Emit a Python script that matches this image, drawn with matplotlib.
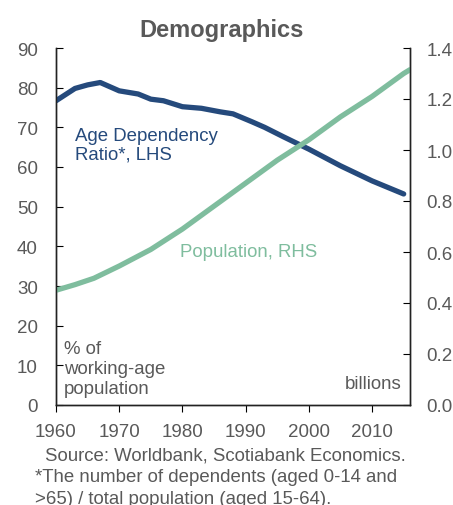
import numpy as np
import matplotlib
matplotlib.use("Agg")
import matplotlib.pyplot as plt

plt.rcParams["font.family"] = ["Liberation Sans", "DejaVu Sans"]

GREY = "#595959"
NAVY = "#254a7c"
GREEN = "#7fbd9e"

# age dependency ratio, % of working-age population (LHS)
adr_years = [1960, 1963, 1965, 1967, 1970, 1973, 1975, 1977, 1980, 1983, 1986,
             1988, 1991, 1993, 1996, 2000, 2005, 2010, 2015]
adr_vals = [76.7, 79.8, 80.7, 81.3, 79.2, 78.4, 77.1, 76.7, 75.2, 74.8, 73.9,
            73.4, 71.4, 70.0, 67.6, 64.5, 60.3, 56.5, 53.2]

# population, billions (RHS)
pop_years = [1960, 1963, 1966, 1970, 1975, 1980, 1985, 1990, 1995, 2000, 2005, 2010, 2015, 2016]
pop_vals = [0.45, 0.472, 0.497, 0.545, 0.61, 0.69, 0.78, 0.87, 0.96, 1.04, 1.13, 1.21, 1.30, 1.315]

left_ticks = list(range(0, 91, 10))
right_ticks = [0.0, 0.2, 0.4, 0.6, 0.8, 1.0, 1.2, 1.4]
x_ticks = [1960, 1970, 1980, 1990, 2000, 2010]

fig = plt.figure(figsize=(4.53, 5.06), dpi=100)
ax = fig.add_axes([56 / 453, 100 / 506, 354 / 453, 357 / 506])
ax2 = ax.twinx()

ax.plot(adr_years, adr_vals, color=NAVY, lw=3.8, solid_capstyle="round",
        solid_joinstyle="round", zorder=3)
ax2.plot(pop_years, pop_vals, color=GREEN, lw=3.8, solid_capstyle="round",
         solid_joinstyle="round", zorder=2)

ax.set_xlim(1960, 2016)
ax.set_ylim(0, 90)
ax2.set_ylim(0, 1.4)
ax.set_xticks(x_ticks)
ax.set_yticks(left_ticks)
ax2.set_yticks(right_ticks)
ax2.set_yticklabels(["%.1f" % v for v in right_ticks])

for a in (ax, ax2):
    a.spines["top"].set_visible(False)
    for s in a.spines.values():
        s.set_color("#222222")
        s.set_linewidth(1.0)
ax.tick_params(axis="y", direction="in", length=5, pad=13, labelsize=13.5, labelcolor=GREY)
ax2.tick_params(axis="y", direction="in", length=5, pad=12, labelsize=13.5, labelcolor=GREY)
ax.tick_params(axis="x", direction="out", length=5, pad=8, labelsize=13.5, labelcolor=GREY)

ax.text(1963, 70, "Age Dependency\nRatio*, LHS", color=NAVY, fontsize=13.4,
        va="top", ha="left", linespacing=1.1)
ax.text(1979.6, 38.6, "Population, RHS", color=GREEN, fontsize=13.4, va="center", ha="left")
ax.text(1961.3, 16.3, "% of\nworking-age\npopulation", color=GREY, fontsize=13.4,
        va="top", ha="left", linespacing=1.2)
ax.text(2014.6, 5.3, "billions", color=GREY, fontsize=13.4, va="center", ha="right")

fig.text(0.49, 1 - 30 / 506, "Demographics", color=GREY, fontsize=17, fontweight="bold",
         ha="center", va="center")
fig.text(45 / 453, 1 - 456 / 506, "Source: Worldbank, Scotiabank Economics.",
         color=GREY, fontsize=13.4, va="center", ha="left")
fig.text(35 / 453, 1 - 478 / 506, "*The number of dependents (aged 0-14 and",
         color=GREY, fontsize=13.4, va="center", ha="left")
fig.text(35 / 453, 1 - 500 / 506, ">65) / total population (aged 15-64).",
         color=GREY, fontsize=13.4, va="center", ha="left")

fig.savefig("out.png", dpi=100)
